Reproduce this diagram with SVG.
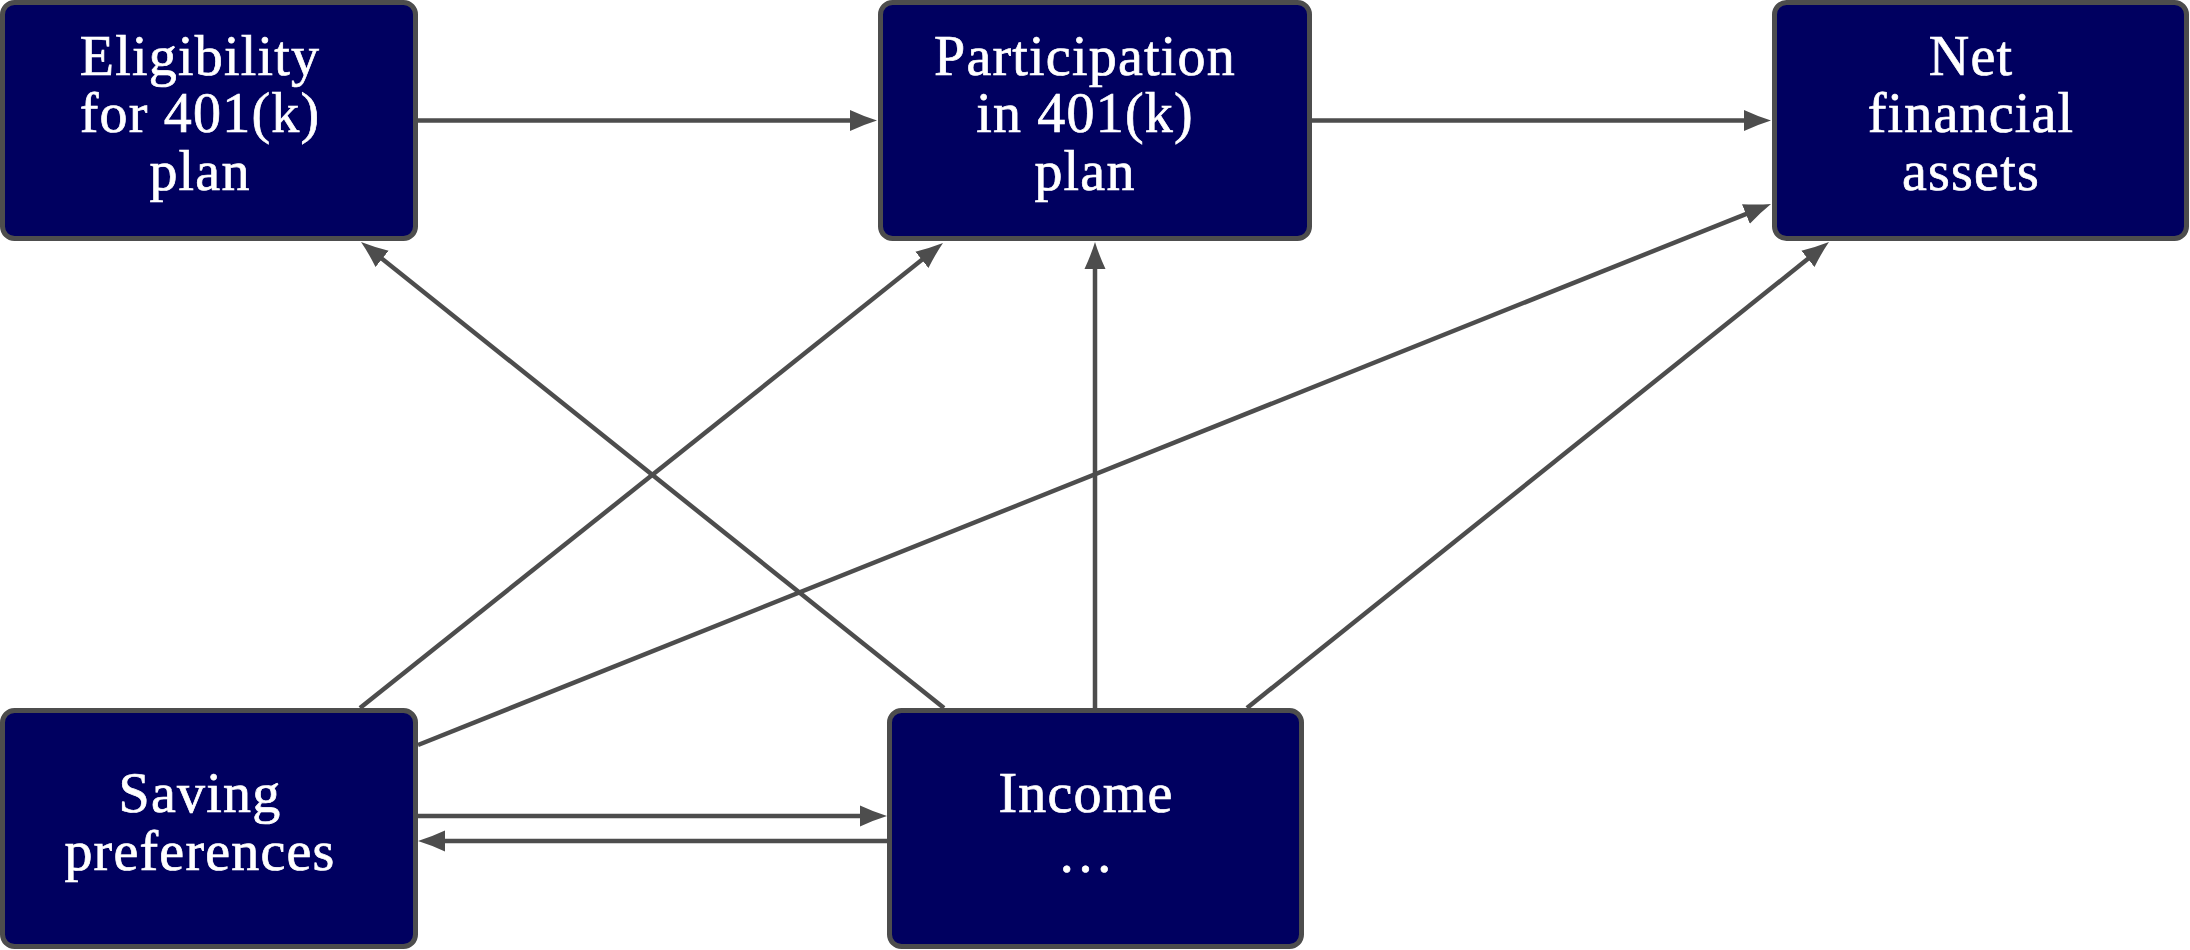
<svg xmlns="http://www.w3.org/2000/svg" width="2190" height="950" viewBox="0 0 2190 950">
<style>
.box{fill:#000060;stroke:#4d4d4d;stroke-width:5}
.lbl{fill:#ffffff;stroke:#ffffff;stroke-width:0.7;font-family:"Liberation Serif","Times New Roman",serif;font-size:56px;letter-spacing:1.2px;text-anchor:middle}
.edge{stroke:#4d4d4d;stroke-width:4.5;fill:none;marker-end:url(#arr)}
</style>
<defs>
<marker id="arr" markerUnits="userSpaceOnUse" viewBox="0 -11 28 22" refX="10" refY="0" markerWidth="28" markerHeight="22" orient="auto">
<path d="M27,0 Q14,-4 0,-10.5 L0,10.5 Q14,4 27,0 Z" fill="#4d4d4d"/>
</marker>
</defs>
<rect width="2190" height="950" fill="#ffffff"/>
<g id="eligibility">
<rect class="box" x="2.5" y="2.5" width="413" height="236" rx="12"/>
<text class="lbl"><tspan x="200" y="75">Eligibility</tspan><tspan x="200" y="132">for 401(k)</tspan><tspan x="200" y="190">plan</tspan></text>
</g>
<g id="participation">
<rect class="box" x="880.5" y="2.5" width="429" height="236" rx="12"/>
<text class="lbl"><tspan x="1085" y="75">Participation</tspan><tspan x="1085" y="132">in 401(k)</tspan><tspan x="1085" y="190">plan</tspan></text>
</g>
<g id="net_assets">
<rect class="box" x="1774.5" y="2.5" width="412" height="236" rx="12"/>
<text class="lbl"><tspan x="1971" y="75">Net</tspan><tspan x="1971" y="132">financial</tspan><tspan x="1971" y="190">assets</tspan></text>
</g>
<g id="saving">
<rect class="box" x="2.5" y="710.5" width="413" height="236" rx="12"/>
<text class="lbl"><tspan x="200" y="812">Saving</tspan><tspan x="200" y="870">preferences</tspan></text>
</g>
<g id="income">
<rect class="box" x="889.5" y="710.5" width="412" height="236" rx="12"/>
<text class="lbl" x="1086" y="812">Income</text>
<text class="lbl" x="1086" y="872">…</text>
</g>
<g id="connectors">
<line class="edge" x1="418" y1="120.5" x2="860" y2="120.5"/>
<line class="edge" x1="1312" y1="120.5" x2="1754" y2="120.5"/>
<line class="edge" x1="944" y1="708" x2="374.3" y2="252.6"/>
<line class="edge" x1="360" y1="708" x2="929.7" y2="253.6"/>
<line class="edge" x1="1095" y1="708" x2="1095" y2="259"/>
<line class="edge" x1="418" y1="745" x2="1755.2" y2="210.3"/>
<line class="edge" x1="1247" y1="708" x2="1815.7" y2="252.6"/>
<line class="edge" x1="418" y1="816" x2="870" y2="816"/>
<line class="edge" x1="887" y1="841" x2="435" y2="841"/>
</g>
</svg>
